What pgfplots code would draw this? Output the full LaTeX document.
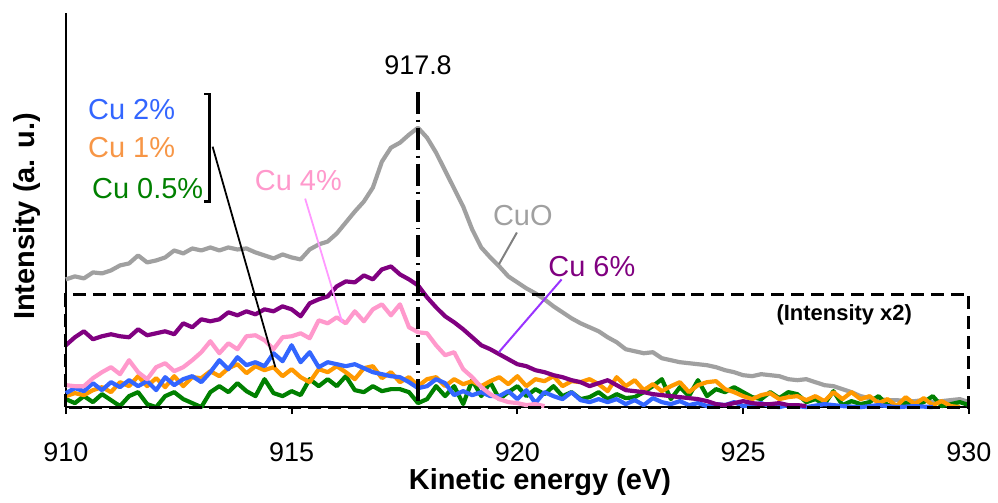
\documentclass[border=0pt]{standalone}
\usepackage{fontspec}
\setmainfont{Liberation Sans}
\usepackage{pgfplots}
\pgfplotsset{compat=1.18}
\definecolor{cuo}{RGB}{160,160,160}
\definecolor{cusix}{RGB}{128,0,128}
\definecolor{cufour}{RGB}{255,153,204}
\definecolor{cutwo}{RGB}{51,102,255}
\definecolor{cuone}{RGB}{255,153,0}
\definecolor{cuonetxt}{RGB}{247,150,70}
\definecolor{cuhalf}{RGB}{0,128,0}
\definecolor{leadsix}{RGB}{153,51,255}
\definecolor{leadfour}{RGB}{255,153,255}
\begin{document}
\begin{tikzpicture}
\begin{axis}[
  name=ax,
  scale only axis,
  width=452.5pt, height=197.5pt,
  xmin=910, xmax=930, ymin=0, ymax=395,
  axis lines*=left,
  axis line style={line width=1pt, black},
  xtick={910,915,920,925,930},
  ytick=\empty,
  tick align=outside,
  major tick length=3.5pt,
  tick style={line width=1pt, black},
  /pgf/number format/assume math mode=true,
  /pgf/number format/1000 sep={},
  xticklabel style={font=\fontsize{13.5}{16}\selectfont, yshift=-11pt},
  xlabel={Kinetic energy (eV)},
  ylabel={Intensity (a. u.)},
  xlabel style={font=\fontsize{14.5}{17}\selectfont\bfseries, at={(rel axis cs:0.525,-0.19)}, anchor=center},
  ylabel style={font=\fontsize{14.5}{17}\selectfont\bfseries, at={(rel axis cs:-0.0431,0.4835)}, anchor=center},
  clip=false,
  every axis plot/.append style={line width=2.1pt, line join=round},
]
% CuO
\addplot[cuo] coordinates {
(910.0,128)(910.2,131)(910.4,129)(910.6,135)(910.8,134)(911.0,137)(911.2,142)(911.4,144)(911.6,152)(911.8,145)
(912.0,147)(912.2,150)(912.4,157)(912.6,154)(912.8,159)(913.0,157)(913.2,160)(913.4,157)(913.6,160)(913.8,158)
(914.0,159)(914.2,155)(914.4,152)(914.6,149)(914.8,153)(915.0,150)(915.2,148)(915.4,158)(915.6,163)(915.8,166)
(916.0,174)(916.2,185)(916.4,196)(916.6,206)(916.8,220)(917.0,246)(917.2,260)(917.4,265)(917.6,273)(917.8,280)
(918.0,270)(918.2,255)(918.4,237)(918.6,219)(918.8,201)(919.0,178)(919.2,160)(919.4,150)(919.6,141)(919.8,131)
(920.0,125)(920.2,119)(920.4,114)(920.6,108)(920.8,101)(921.0,95)(921.2,89)(921.4,84)(921.6,80)(921.8,76)
(922.0,70)(922.2,65)(922.4,58)(922.6,56)(922.8,54)(923.0,55)(923.2,49)(923.4,47)(923.6,45)(923.8,44)
(924.0,43)(924.2,42)(924.4,40)(924.6,37)(924.8,35)(925.0,32)(925.2,31)(925.4,33)(925.6,32)(925.8,31)
(926.0,28)(926.2,27)(926.4,28)(926.6,25)(926.8,22)(927.0,21)(927.2,18)(927.4,15)(927.6,11)(927.8,9)
(928.0,8)(928.2,7)(928.4,7)(928.6,6)(928.8,6)(929.0,7)(929.2,5)(929.4,6)(929.6,7)(929.8,8)(930.0,5)
};
% Cu 0.5%
\addplot[cuhalf] coordinates {
(910.0,8)(910.2,4)(910.4,11)(910.6,5)(910.8,13)(911.0,7)(911.2,1)(911.4,11)(911.6,15)(911.8,3)
(912.0,0)(912.2,11)(912.4,15)(912.6,8)(912.8,4)(913.0,0)(913.2,15)(913.4,21)(913.6,15)(913.8,24)
(914.0,16)(914.2,11)(914.4,28)(914.6,14)(914.8,11)(915.0,16)(915.2,12)(915.4,28)(915.6,21)(915.8,28)
(916.0,21)(916.2,31)(916.4,17)(916.6,15)(916.8,21)(917.0,16)(917.2,18)(917.4,18)(917.6,15)(917.8,4)
(918.0,8)(918.2,21)(918.4,11)(918.6,21)(918.8,3)(919.0,27)(919.2,11)(919.4,25)(919.6,8)(919.8,15)
(920.0,21)(920.2,11)(920.4,18)(920.6,13)(920.8,21)(921.0,11)(921.2,15)(921.4,8)(921.6,10)(921.8,15)
(922.0,8)(922.2,13)(922.4,9)(922.6,10)(922.8,15)(923.0,21)(923.2,28)(923.4,8)(923.6,20)(923.8,11)
(924.0,27)(924.2,11)(924.4,18)(924.6,15)(924.8,20)(925.0,15)(925.2,10)(925.4,8)(925.6,15)(925.8,9)
(926.0,15)(926.2,13)(926.4,5)(926.6,8)(926.8,3)(927.0,16)(927.2,2)(927.4,6)(927.6,3)(927.8,5)
(928.0,11)(928.2,2)(928.4,1)(928.6,4)(928.8,2)(929.0,5)(929.2,11)(929.4,1)(929.6,3)(929.8,5)(930.0,2)
};
% Cu 1%
\addplot[cuone] coordinates {
(910.0,11)(910.2,14)(910.4,12)(910.6,17)(910.8,20)(911.0,15)(911.2,25)(911.4,21)(911.6,31)(911.8,21)
(912.0,29)(912.2,20)(912.4,31)(912.6,21)(912.8,30)(913.0,29)(913.2,36)(913.4,31)(913.6,39)(913.8,43)
(914.0,34)(914.2,41)(914.4,37)(914.6,40)(914.8,31)(915.0,38)(915.2,30)(915.4,25)(915.6,38)(915.8,35)
(916.0,41)(916.2,35)(916.4,28)(916.6,39)(916.8,41)(917.0,29)(917.2,35)(917.4,25)(917.6,30)(917.8,21)
(918.0,28)(918.2,30)(918.4,21)(918.6,28)(918.8,23)(919.0,26)(919.2,21)(919.4,26)(919.6,30)(919.8,23)
(920.0,31)(920.2,21)(920.4,28)(920.6,26)(920.8,31)(921.0,21)(921.2,26)(921.4,25)(921.6,28)(921.8,23)
(922.0,16)(922.2,30)(922.4,21)(922.6,27)(922.8,17)(923.0,23)(923.2,16)(923.4,21)(923.6,25)(923.8,15)
(924.0,22)(924.2,25)(924.4,26)(924.6,18)(924.8,15)(925.0,11)(925.2,8)(925.4,12)(925.6,14)(925.8,8)
(926.0,10)(926.2,11)(926.4,7)(926.6,11)(926.8,6)(927.0,15)(927.2,8)(927.4,15)(927.6,8)(927.8,11)
(928.0,4)(928.2,8)(928.4,1)(928.6,10)(928.8,3)(929.0,9)(929.2,2)(929.4,6)(929.6,1)(929.8,0)
};
% Cu 2%
\addplot[cutwo] coordinates {
(910.0,14)(910.2,19)(910.4,16)(910.6,24)(910.8,17)(911.0,25)(911.2,20)(911.4,27)(911.6,21)(911.8,26)
(912.0,17)(912.2,30)(912.4,22)(912.6,28)(912.8,31)(913.0,25)(913.2,35)(913.4,47)(913.6,38)(913.8,50)
(914.0,42)(914.2,45)(914.4,41)(914.6,54)(914.8,46)(915.0,62)(915.2,45)(915.4,55)(915.6,40)(915.8,45)
(916.0,43)(916.2,41)(916.4,43)(916.6,39)(916.8,35)(917.0,33)(917.2,31)(917.4,30)(917.6,25)(917.8,19)
(918.0,21)(918.2,28)(918.4,24)(918.6,12)(918.8,16)(919.0,12)(919.2,15)(919.4,11)(919.6,11)(919.8,16)
(920.0,8)(920.2,17)(920.4,4)(920.6,15)(920.8,11)(921.0,8)(921.2,15)(921.4,7)(921.6,5)(921.8,8)
(922.0,5)(922.2,8)(922.4,3)(922.6,7)(922.8,2)(923.0,9)(923.2,5)(923.4,3)(923.6,6)(923.8,2)
(924.0,4)(924.2,1)(924.4,3)(924.6,2)(924.8,5)(925.0,1)(925.2,2)(925.4,4)(925.6,1)(925.8,0)
(926.0,2)(926.4,0)(926.8,3)(927.2,1)(927.6,0)(928.0,2)(928.4,0)(928.8,1)(929.2,0)
};
% Cu 4%
\addplot[cufour] coordinates {
(910.0,22)(910.2,21)(910.4,21)(910.6,29)(910.8,35)(911.0,40)(911.2,33)(911.4,47)(911.6,35)(911.8,28)
(912.0,40)(912.2,44)(912.4,36)(912.6,40)(912.8,47)(913.0,55)(913.2,66)(913.4,54)(913.6,64)(913.8,58)
(914.0,71)(914.2,72)(914.4,67)(914.6,58)(914.8,70)(915.0,71)(915.2,74)(915.4,69)(915.6,87)(915.8,84)
(916.0,90)(916.2,84)(916.4,96)(916.6,86)(916.8,98)(917.0,103)(917.2,92)(917.4,103)(917.6,80)(917.8,75)
(918.0,74)(918.2,62)(918.4,52)(918.6,55)(918.8,38)(919.0,30)(919.2,20)(919.4,13)(919.6,8)(919.8,5)
(920.0,4)(920.2,2)(920.4,3)(920.6,1)
};
% Cu 6%
\addplot[cusix] coordinates {
(910.0,62)(910.2,70)(910.4,76)(910.6,68)(910.8,71)(911.0,73)(911.2,71)(911.4,70)(911.6,78)(911.8,72)
(912.0,74)(912.2,76)(912.4,73)(912.6,84)(912.8,80)(913.0,88)(913.2,86)(913.4,88)(913.6,95)(913.8,92)
(914.0,96)(914.2,93)(914.4,98)(914.6,96)(914.8,101)(915.0,98)(915.2,91)(915.4,104)(915.6,108)(915.8,111)
(916.0,121)(916.2,126)(916.4,125)(916.6,132)(916.8,128)(917.0,138)(917.2,141)(917.4,133)(917.6,128)(917.8,122)
(918.0,110)(918.2,100)(918.4,91)(918.6,85)(918.8,78)(919.0,70)(919.2,62)(919.4,58)(919.6,53)(919.8,48)
(920.0,43)(920.2,41)(920.4,37)(920.6,35)(920.8,32)(921.0,30)(921.2,27)(921.4,25)(921.6,21)(921.8,24)
(922.0,27)(922.2,22)(922.4,17)(922.6,16)(922.8,15)(923.0,13)(923.2,12)(923.4,11)(923.6,10)(923.8,9)
(924.0,8)(924.2,6)(924.4,3)(924.6,2)(924.8,4)(925.0,6)(925.2,4)(925.4,3)(925.6,3)(925.8,4)(926.0,2)(926.2,2)(926.4,1)
};
% dashed box (Intensity x2)
\draw[black, line width=1.6pt, dash pattern=on 6.5pt off 3.5pt] (axis cs:910,0) rectangle (axis cs:930,113);
% dash-dot line at 917.8
\draw[black, line width=2pt, dash pattern=on 11pt off 3pt on 1pt off 3pt] (axis cs:917.8,316) -- (axis cs:917.8,0);
\node[font=\fontsize{13.5}{16}\selectfont] at (axis cs:917.8,343) {917.8};
\node[font=\fontsize{11}{13}\selectfont\bfseries] at (axis cs:927.24,92) {(Intensity x2)};
% labels
\node[cuo, font=\fontsize{14.5}{17}\selectfont] at (axis cs:920.12,192) {CuO};
\draw[gray, line width=1pt] (axis cs:919.99,175) -- (axis cs:919.59,143);
\node[cusix, font=\fontsize{14.5}{17}\selectfont] at (axis cs:921.65,141) {Cu 6\%};
\draw[leadsix, line width=1pt] (axis cs:920.98,128) -- (axis cs:919.59,55);
\node[cufour, font=\fontsize{14.5}{17}\selectfont] at (axis cs:915.15,227) {Cu 4\%};
\draw[leadfour, line width=0.9pt] (axis cs:915.30,209) -- (axis cs:916.12,85);
\node[cutwo, font=\fontsize{14.5}{17}\selectfont, anchor=west, inner sep=0pt] at (axis cs:910.486,298) {Cu 2\%};
\node[cuonetxt, font=\fontsize{14.5}{17}\selectfont, anchor=west, inner sep=0pt] at (axis cs:910.486,260) {Cu 1\%};
\node[cuhalf, font=\fontsize{14.5}{17}\selectfont, anchor=west, inner sep=0pt] at (axis cs:910.575,219) {Cu 0.5\%};
% bracket
\draw[black, line width=1.1pt] (axis cs:913.07,314) -- (axis cs:913.18,314) -- (axis cs:913.18,206) -- (axis cs:913.07,206);
\draw[black, line width=0.9pt] (axis cs:913.25,261) -- (axis cs:914.64,40);
\end{axis}
\path (ax.south west) ++(-33pt,-47pt) rectangle ++(499pt,251pt);
\end{tikzpicture}
\end{document}
